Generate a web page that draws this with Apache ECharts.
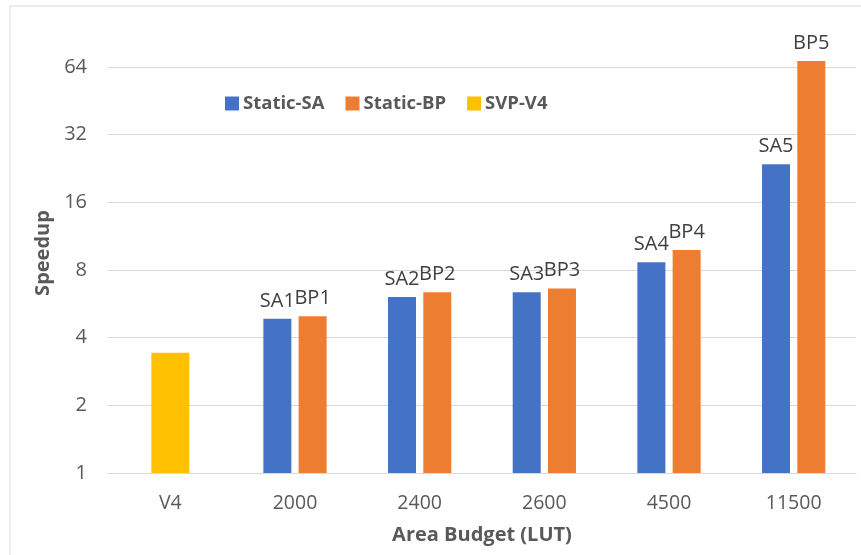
<!DOCTYPE html>
<html>
<head>
<meta charset="utf-8">
<script src="https://cdn.jsdelivr.net/npm/echarts@6/dist/echarts.min.js"></script>
<style>
  html, body { margin: 0; padding: 0; background: #ffffff; }
  #chart { width: 861px; height: 555px; }
</style>
</head>
<body>
<div id="chart"></div>
<script>
// Area budgets (LUT) on the x axis
const categories = ['V4', '2000', '2400', '2600', '4500', '11500'];

// Speedup values per configuration
const staticSA = [null, 4.85, 6.07, 6.37, 8.65, 23.6];
const staticBP = [null, 4.98, 6.37, 6.61, 9.81, 68.0];
const svpV4 = [3.43, null, null, null, null, null];

// Tags printed above each bar
const saTags = ['', 'SA1', 'SA2', 'SA3', 'SA4', 'SA5'];
const bpTags = ['', 'BP1', 'BP2', 'BP3', 'BP4', 'BP5'];

// Log2 axis range
const yMin = 1;
const yMax = Math.pow(2, 6.5);

const FONT = '"Open Sans", "Noto Sans", sans-serif';
const GRID_COLOR = '#d9d9d9';
const TEXT_COLOR = '#595959';

const chart = echarts.init(document.getElementById('chart'), null, { renderer: 'canvas' });

const tagLabel = (tags) => ({
  show: true,
  position: 'top',
  distance: 8,
  color: '#404040',
  fontFamily: FONT,
  fontSize: 20,
  formatter: (p) => tags[p.dataIndex]
});

chart.setOption({
  animation: false,
  backgroundColor: '#ffffff',
  textStyle: { fontFamily: FONT },
  graphic: [{
    type: 'rect',
    silent: true,
    shape: { x: 10, y: 6, width: 870, height: 570 },
    style: { fill: 'none', stroke: GRID_COLOR, lineWidth: 1 }
  }],
  grid: { left: 108, right: 5, top: 33, bottom: 82, containLabel: false },
  legend: {
    left: 220,
    top: 89,
    itemWidth: 14,
    itemHeight: 14,
    itemGap: 21,
    icon: 'rect',
    textStyle: { color: TEXT_COLOR, fontFamily: FONT, fontSize: 18.5, fontWeight: 'bold', padding: [0, 0, 0, -1] },
    data: ['Static-SA', 'Static-BP', 'SVP-V4']
  },
  xAxis: [{
    type: 'category',
    data: categories,
    axisTick: { show: false },
    axisLine: { lineStyle: { color: GRID_COLOR, width: 1 } },
    axisLabel: { color: TEXT_COLOR, fontFamily: FONT, fontSize: 19.5, margin: 20 },
    name: 'Area Budget (LUT)',
    nameLocation: 'middle',
    nameGap: 52,
    nameTextStyle: { color: TEXT_COLOR, fontFamily: FONT, fontSize: 20, fontWeight: 'bold' }
  }, {
    type: 'category',
    data: categories,
    show: false
  }],
  yAxis: {
    type: 'log',
    logBase: 2,
    min: yMin,
    max: yMax,
    interval: 1,
    axisLine: { show: false },
    axisTick: { show: false },
    splitLine: { show: true, showMaxLine: false, lineStyle: { color: GRID_COLOR, width: 1 } },
    axisLabel: {
      color: TEXT_COLOR, fontFamily: FONT, fontSize: 20, margin: 21,
      showMaxLabel: false,
      formatter: (v) => String(Math.round(v))
    },
    name: 'Speedup',
    nameLocation: 'middle',
    nameGap: 48,
    nameRotate: 90,
    nameTextStyle: { color: TEXT_COLOR, fontFamily: FONT, fontSize: 20, fontWeight: 'bold' }
  },
  series: [{
    name: 'Static-SA',
    type: 'bar',
    xAxisIndex: 0,
    data: staticSA,
    barWidth: 28,
    barGap: '26%',
    itemStyle: { color: '#4472C4' },
    label: tagLabel(saTags)
  }, {
    name: 'Static-BP',
    type: 'bar',
    xAxisIndex: 0,
    data: staticBP,
    barWidth: 28,
    barGap: '26%',
    itemStyle: { color: '#ED7D31' },
    label: tagLabel(bpTags)
  }, {
    name: 'SVP-V4',
    type: 'bar',
    xAxisIndex: 1,
    data: svpV4,
    barWidth: 38,
    itemStyle: { color: '#FFC000' }
  }]
});
</script>
</body>
</html>
